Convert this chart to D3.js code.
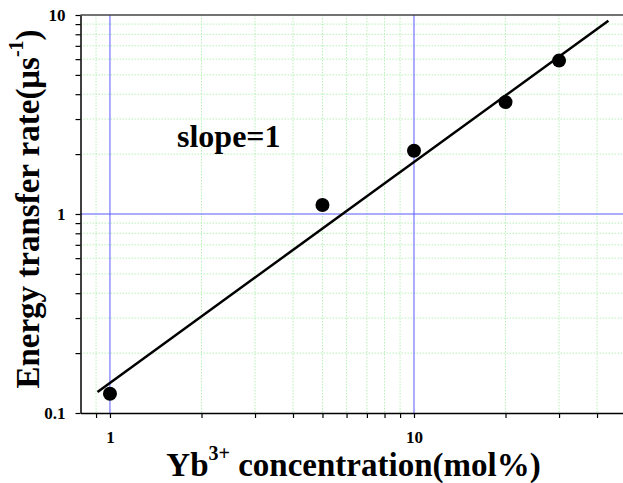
<!DOCTYPE html>
<html>
<head>
<meta charset="utf-8">
<script src="https://cdn.jsdelivr.net/npm/d3@7"></script>
<style>
  html, body { margin: 0; padding: 0; background: #fff; }
  svg { display: block; }
  svg text { font-family: "Liberation Serif", "Times New Roman", serif; font-weight: bold; fill: #000; }
  .axis .tick text { font-size: 17px; }
</style>
</head>
<body>
<svg id="chart" width="623" height="483"></svg>
<script>
// Yb3+ concentration (mol%) and measured energy transfer rate (µs^-1)
const concentration = [1, 5, 10, 20, 30];
const transferRate = [0.125, 1.11, 2.08, 3.65, 5.9];

// Fitted line (log-log), given by its two end points
const fitConcentration = [0.91, 43.6];
const fitRate = [0.1275, 9.36];

// Axis ticks
const xMajorTicks = [1, 10];
const xTickLabels = ["1", "10"];
const xMinorTicks = [0.9, 2, 3, 4, 5, 6, 7, 8, 9, 20, 30, 40];
const yMajorTicks = [0.1, 1, 10];
const yTickLabels = ["0.1", "1", "10"];
const yMinorTicks = [0.2, 0.3, 0.4, 0.5, 0.6, 0.7, 0.8, 0.9, 2, 3, 4, 5, 6, 7, 8, 9];

const svg = d3.select("#chart");
const plotLeft = 80.5, plotRight = 626.5, plotTop = 15, plotBottom = 413;

const x = d3.scaleLog().domain([0.8, 50]).range([plotLeft, plotRight]);
const y = d3.scaleLog().domain([0.1, 10]).range([plotBottom, plotTop]);

// Minor grid (light green, dotted)
const grid = svg.append("g");
grid.selectAll("line.vx").data(xMinorTicks).join("line")
  .attr("x1", d => x(d)).attr("x2", d => x(d))
  .attr("y1", plotTop).attr("y2", plotBottom)
  .attr("stroke", "#b8f0b8").attr("stroke-width", 1).attr("stroke-dasharray", "1.5,1.5");
grid.selectAll("line.hy").data(yMinorTicks).join("line")
  .attr("x1", plotLeft).attr("x2", plotRight)
  .attr("y1", d => y(d)).attr("y2", d => y(d))
  .attr("stroke", "#b8f0b8").attr("stroke-width", 1).attr("stroke-dasharray", "1.5,1.5");

// Major grid (blue)
grid.selectAll("line.mx").data(xMajorTicks).join("line")
  .attr("x1", d => x(d)).attr("x2", d => x(d))
  .attr("y1", plotTop).attr("y2", plotBottom)
  .attr("stroke", "#5a5aff").attr("stroke-width", 1);
grid.selectAll("line.my").data([1]).join("line")
  .attr("x1", plotLeft).attr("x2", plotRight)
  .attr("y1", d => y(d)).attr("y2", d => y(d))
  .attr("stroke", "#5a5aff").attr("stroke-width", 1);

// Top frame
svg.append("line")
  .attr("x1", plotLeft).attr("x2", plotRight).attr("y1", plotTop).attr("y2", plotTop)
  .attr("stroke", "#444").attr("stroke-width", 1.5);

// Bottom axis
const xAxis = d3.axisBottom(x)
  .tickValues(xMinorTicks.concat(xMajorTicks))
  .tickSize(5).tickSizeOuter(0).tickPadding(4)
  .tickFormat(d => { const i = xMajorTicks.indexOf(d); return i >= 0 ? xTickLabels[i] : ""; });
const gx = svg.append("g").attr("class", "axis")
  .attr("transform", `translate(0,${plotBottom})`).call(xAxis);
gx.attr("font-size", null).attr("font-family", null);
gx.select(".domain").attr("stroke", "#000").attr("stroke-width", 1.5);
gx.selectAll(".tick line").attr("stroke", "#000").attr("stroke-width", 1.2);
gx.selectAll(".tick text").attr("dy", null).attr("y", 30);

// Left axis
const yAxis = d3.axisLeft(y)
  .tickValues(yMinorTicks.concat(yMajorTicks))
  .tickSize(5).tickSizeOuter(0).tickPadding(10)
  .tickFormat(d => { const i = yMajorTicks.indexOf(d); return i >= 0 ? yTickLabels[i] : ""; });
const gy = svg.append("g").attr("class", "axis")
  .attr("transform", `translate(${plotLeft},0)`).call(yAxis);
gy.attr("font-size", null).attr("font-family", null);
gy.select(".domain").attr("stroke", "#000").attr("stroke-width", 1.5);
gy.selectAll(".tick line").attr("stroke", "#000").attr("stroke-width", 1.2);

// Fitted line
const line = d3.line().x(d => x(d[0])).y(d => y(d[1]));
svg.append("path")
  .datum(d3.zip(fitConcentration, fitRate))
  .attr("d", line)
  .attr("fill", "none").attr("stroke", "#000").attr("stroke-width", 2.5);

// Data points
svg.selectAll("circle.pt").data(d3.zip(concentration, transferRate)).join("circle")
  .attr("cx", d => x(d[0])).attr("cy", d => y(d[1])).attr("r", 7)
  .attr("fill", "#000");

// Annotation
svg.append("text").attr("x", 177).attr("y", 147).style("font-size", "32px").text("slope=1");

// X axis title
const xt = svg.append("text")
  .attr("x", (plotLeft + plotRight) / 2).attr("y", 476)
  .attr("text-anchor", "middle").style("font-size", "33px");
xt.append("tspan").text("Yb");
xt.append("tspan").style("font-size", "20px").attr("dy", -16).text("3+");
xt.append("tspan").attr("dy", 16).text(" concentration(mol%)");

// Y axis title
const yt = svg.append("text")
  .attr("transform", "translate(39,209) rotate(-90)")
  .attr("text-anchor", "middle").style("font-size", "33px");
yt.append("tspan").text("Energy transfer rate(\u03bcs");
yt.append("tspan").style("font-size", "20px").attr("dy", -16).text("-1");
yt.append("tspan").attr("dy", 16).text(")");
</script>
</body>
</html>
